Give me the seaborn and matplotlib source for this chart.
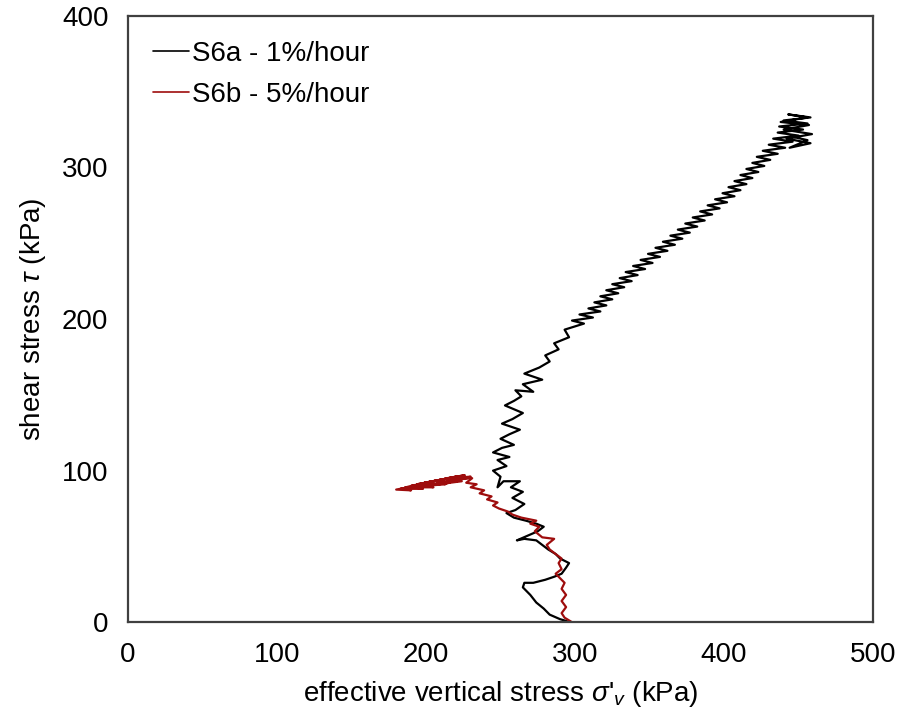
import pandas as pd
import matplotlib
matplotlib.use("Agg")
import matplotlib.pyplot as plt
import seaborn as sns

# stress path S6a (1%/hour) - effective vertical stress, shear stress (kPa)
s6a_sigma = [297, 290, 283, 279, 274, 270, 265, 266, 272, 280, 286, 291, 294, 296, 290, 287,
             282, 278, 274, 266, 261, 268, 275, 279, 274, 267, 259, 254, 260, 266, 258, 265,
             257, 263, 252, 248, 250, 245, 254, 248, 256, 245, 251, 259, 250, 256, 263, 251,
             258, 265, 253, 259, 264, 260, 272, 265, 278, 266, 276, 283, 280, 289, 286, 296,
             293, 306, 298, 312, 303, 317, 309, 321, 313, 325, 317, 329, 321, 333, 325, 338,
             330, 342, 334, 347, 339, 352, 344, 357, 349, 362, 354, 367, 359, 372, 364, 377,
             369, 382, 374, 387, 379, 392, 384, 397, 389, 402, 394, 407, 399, 411, 403, 415,
             407, 419, 411, 423, 415, 427, 419, 431, 422, 436, 426, 441, 430, 446, 433, 450,
             436, 453, 437, 456, 440, 458, 443, 456, 438, 457, 440, 459, 442, 458, 444, 456,
             447]
s6a_tau = [0, 2, 5, 9, 13, 18, 23, 26, 26, 28, 30, 32, 36, 39, 42, 45,
           48, 51, 54, 55, 54, 57, 60, 63, 65, 67, 69, 72, 74, 78, 82, 86,
           89, 93, 93, 89, 96, 100, 103, 107, 109, 112, 115, 117, 121, 124, 127, 131,
           134, 138, 143, 146, 149, 153, 152, 157, 160, 164, 168, 172, 176, 180, 184, 188,
           193, 197, 199, 201, 203, 205, 207, 209, 211, 213, 215, 217, 219, 221, 223, 225,
           227, 229, 231, 233, 235, 237, 239, 241, 243, 245, 247, 249, 251, 253, 255, 257,
           259, 261, 263, 265, 267, 269, 271, 273, 275, 277, 279, 281, 283, 285, 287, 289,
           291, 293, 295, 297, 299, 301, 303, 305, 307, 309, 311, 313, 315, 317, 319, 321,
           323, 325, 327, 329, 331, 333, 335, 333, 330, 328, 325, 322, 319, 316, 313, 318,
           320]

# stress path S6b (5%/hour)
s6b_sigma = [298, 293, 291, 294, 291, 294, 291, 293, 290, 287, 291, 289, 291, 287, 283, 281,
             286, 278, 273, 276, 270, 274, 264, 258, 255, 249, 245, 248, 241, 244, 236, 239,
             230, 234, 227, 231, 222, 226, 216, 221, 208, 213, 200, 205, 192, 198, 185, 190,
             180, 188, 183, 195, 186, 199, 190, 205, 194, 210, 199, 215, 205, 220, 210, 226,
             214, 230, 219, 224, 208, 216, 198, 206, 190, 197, 184, 195, 204, 213, 222, 228]
s6b_tau = [0, 3, 6, 10, 14, 18, 22, 26, 29, 32, 35, 39, 42, 45, 48, 51,
           55, 56, 60, 63, 65, 67, 69, 71, 73, 75, 77, 79, 81, 83, 85, 87,
           89, 91, 92, 95, 95, 96, 94, 93, 92, 91, 90, 89, 89, 88, 88, 87,
           87.5, 89, 88, 90, 89, 91, 90, 93, 91, 94, 92, 95, 93, 96, 94, 97,
           95, 96, 94, 93, 91, 92, 90, 91, 88.5, 90, 88, 89.5, 91, 93, 94, 95]

labels = ["S6a - 1%/hour", "S6b - 5%/hour"]

df = pd.concat([
    pd.DataFrame({"sigma": s6a_sigma, "tau": s6a_tau, "test": labels[0]}),
    pd.DataFrame({"sigma": s6b_sigma, "tau": s6b_tau, "test": labels[1]}),
])

sns.set_style("white")
plt.rcParams["font.family"] = ["Liberation Sans", "DejaVu Sans"]
plt.rcParams["mathtext.fontset"] = "custom"
plt.rcParams["mathtext.rm"] = "Liberation Sans"
plt.rcParams["mathtext.it"] = "Liberation Sans:italic"
plt.rcParams["text.color"] = "black"
plt.rcParams["axes.labelcolor"] = "black"
plt.rcParams["xtick.color"] = "black"
plt.rcParams["ytick.color"] = "black"

fig, ax = plt.subplots(figsize=(9.01, 7.21), dpi=100)
fig.subplots_adjust(left=0.142, right=0.969, bottom=0.137, top=0.978)

sns.lineplot(
    data=df, x="sigma", y="tau", hue="test", sort=False, estimator=None,
    palette={labels[0]: "black", labels[1]: "#9e0d0d"}, linewidth=1.6, ax=ax,
)

ax.set_xlim(0, 500)
ax.set_ylim(0, 400)
ax.set_xticks([0, 100, 200, 300, 400, 500])
ax.set_yticks([0, 100, 200, 300, 400])
ax.tick_params(axis="x", direction="in", length=6, width=1.5, color="#404040",
               labelsize=20, pad=14)
ax.tick_params(axis="y", length=0, labelsize=20, pad=14)

for s in ax.spines.values():
    s.set_color("#404040")
    s.set_linewidth(1.6)

ax.set_xlabel(r"effective vertical stress $\sigma$'$_v$ (kPa)", fontsize=20, labelpad=8)
ax.set_ylabel(r"shear stress $\tau$ (kPa)", fontsize=20, labelpad=10)

leg = ax.legend(loc="upper left", frameon=False, fontsize=20, handlelength=1.3,
                handletextpad=0.1, labelspacing=0.55, borderaxespad=0.5)
for line in leg.get_lines():
    line.set_linewidth(1.2)

fig.savefig("out.png", dpi=100)
